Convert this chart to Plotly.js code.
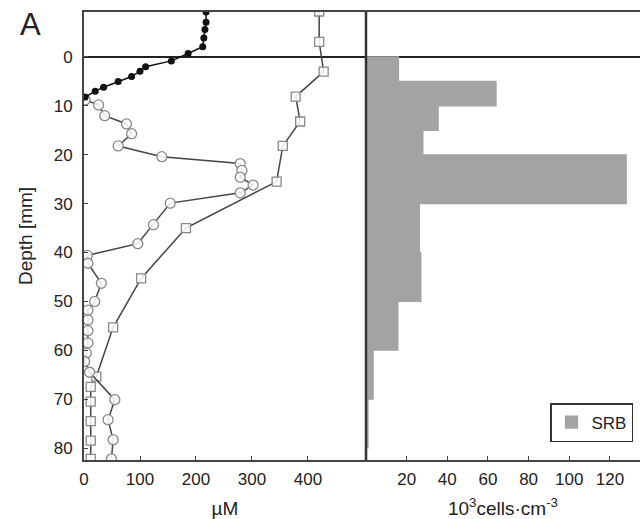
<!DOCTYPE html>
<html>
<head>
<meta charset="utf-8">
<script src="https://cdn.plot.ly/plotly-3.0.1.min.js"></script>
<style>
html,body{margin:0;padding:0;background:#fff;}
#chart{width:640px;height:519px;}
</style>
</head>
<body>
<div id="chart"></div>
<script>
// Filled black dots (upper profile)
const depthDots = [-9.2, -7.1, -5.6, -3.9, -2.1, -0.7, 0.8, 2.0, 2.9, 4.0, 5.0, 6.2, 7.0, 8.2];
const valDots   = [218, 218, 216, 214, 212, 186, 156, 110, 100, 85, 61, 35, 20, 2];

// Open circles profile
const depthCircles = [8.8, 9.8, 12.0, 13.7, 15.7, 18.2, 20.4, 21.8, 23.2, 24.6, 26.2, 27.8, 29.9, 34.3, 38.2, 40.6, 42.2, 46.3, 50.0, 51.8, 53.8, 56.0, 58.5, 60.6, 62.3, 64.5, 70.1, 74.2, 78.3, 82.2];
const valCircles   = [2, 26, 37, 76, 85, 61, 139, 279, 282, 279, 302, 279, 154, 124, 96, 6, 7, 31, 19, 7, 7, 7, 7, 4, 1, 10, 55, 43, 52, 49];

// Open squares profile
const depthSquares = [-9.3, -3.1, 3.0, 8.1, 13.2, 18.2, 25.5, 35.0, 45.3, 55.3, 65.4, 67.5, 70.5, 74.5, 78.5, 82.2];
const valSquares   = [420, 420, 428, 378, 386, 355, 344, 182, 102, 52, 22, 12, 12, 12, 12, 12];

// SRB bars (depth bins, 10^3 cells cm^-3)
const srbTop    = [0, 5, 10, 15, 20, 30, 40, 50, 60, 70];
const srbBottom = [5, 10, 15, 20, 30, 40, 50, 60, 70, 80];
const srbVals   = [16, 64, 35.5, 28, 128, 26.3, 27, 15.7, 3.5, 1];

const yTicks = [0, 10, 20, 30, 40, 50, 60, 70, 80];
const xTicksLeft = [0, 100, 200, 300, 400];
const xTicksRight = [20, 40, 60, 80, 100, 120];

const W = 640, H = 519, T = 12, B = 59;
const PH = H - T - B;
const xL0 = 84 / W, xMid = 366 / W;
const fam = 'Liberation Sans, Arial, sans-serif';
const tickFont = {family: fam, size: 17, color: '#222'};
const titleFont = {family: fam, size: 19, color: '#222'};

const traces = [
  {
    type: 'scatter', mode: 'lines+markers', x: valSquares, y: depthSquares,
    xaxis: 'x', yaxis: 'y', showlegend: false,
    line: {color: '#444', width: 1.5},
    marker: {symbol: 'square', size: 9, color: 'rgba(255,255,255,0.85)', line: {color: '#888', width: 1.3}}
  },
  {
    type: 'scatter', mode: 'lines+markers', x: valCircles, y: depthCircles,
    xaxis: 'x', yaxis: 'y', showlegend: false,
    line: {color: '#444', width: 1.5},
    marker: {symbol: 'circle', size: 10, color: 'rgba(255,255,255,0.85)', line: {color: '#888', width: 1.3}}
  },
  {
    type: 'scatter', mode: 'lines+markers', x: valDots, y: depthDots,
    xaxis: 'x', yaxis: 'y', showlegend: false,
    line: {color: '#111', width: 1.5},
    marker: {symbol: 'circle', size: 7, color: '#111'}
  },
  {
    type: 'bar', orientation: 'h', name: 'SRB',
    x: srbVals,
    y: srbTop.map((t, i) => (t + srbBottom[i]) / 2),
    width: srbTop.map((t, i) => srbBottom[i] - t),
    xaxis: 'x2', yaxis: 'y',
    marker: {color: '#a3a3a3', line: {color: '#a3a3a3', width: 1.2}}
  }
];

const layout = {
  width: W, height: H,
  margin: {l: 0, r: 0, t: T, b: B},
  paper_bgcolor: '#fff', plot_bgcolor: 'rgba(0,0,0,0)',
  font: tickFont,
  showlegend: true,
  legend: {
    x: 633 / W, xanchor: 'right', y: (H - B - 442) / PH, yanchor: 'bottom',
    bgcolor: '#fff', bordercolor: '#333', borderwidth: 1.5,
    font: {family: fam, size: 17, color: '#222'}
  },
  xaxis: {
    domain: [xL0, xMid], range: [0, 503.6], anchor: 'y',
    tickvals: xTicksLeft, ticks: 'inside', ticklen: 4, tickcolor: '#444',
    showline: true, mirror: true, linecolor: '#444', linewidth: 2,
    showgrid: false, zeroline: false,
    tickfont: tickFont, ticklabelstandoff: 3,
    title: {text: 'µM', font: titleFont, standoff: 15}
  },
  xaxis2: {
    domain: [xMid, 1], range: [0, 134.8], anchor: 'y',
    tickvals: xTicksRight, ticks: 'inside', ticklen: 4, tickcolor: '#444',
    showline: true, mirror: true, linecolor: '#444', linewidth: 2,
    showgrid: false, zeroline: false,
    tickfont: tickFont, ticklabelstandoff: 3,
    title: {text: '10<sup>3</sup>cells·cm<sup>-3</sup>', font: titleFont, standoff: 13}
  },
  yaxis: {
    domain: [0, 1], range: [82.45, -9.2], anchor: 'x',
    tickvals: yTicks, ticks: 'inside', ticklen: 4, tickcolor: '#444',
    showline: true, linecolor: '#444', linewidth: 2,
    showgrid: false,
    zeroline: true, zerolinecolor: '#222', zerolinewidth: 2,
    tickfont: tickFont, ticklabelstandoff: 6,
    title: {text: 'Depth [mm]', font: titleFont, standoff: 16}
  },
  shapes: [
    {type: 'line', xref: 'paper', yref: 'paper', x0: xMid, x1: xMid, y0: 0, y1: 1,
     line: {color: '#333', width: 2.5}, layer: 'above'}
  ],
  annotations: [
    {text: 'A', xref: 'paper', yref: 'paper', x: 30 / W, y: (H - B - 25) / PH,
     xanchor: 'center', yanchor: 'middle', showarrow: false,
     font: {family: fam, size: 31, color: '#222'}}
  ]
};

Plotly.newPlot('chart', traces, layout, {displayModeBar: false, staticPlot: true});
</script>
</body>
</html>
